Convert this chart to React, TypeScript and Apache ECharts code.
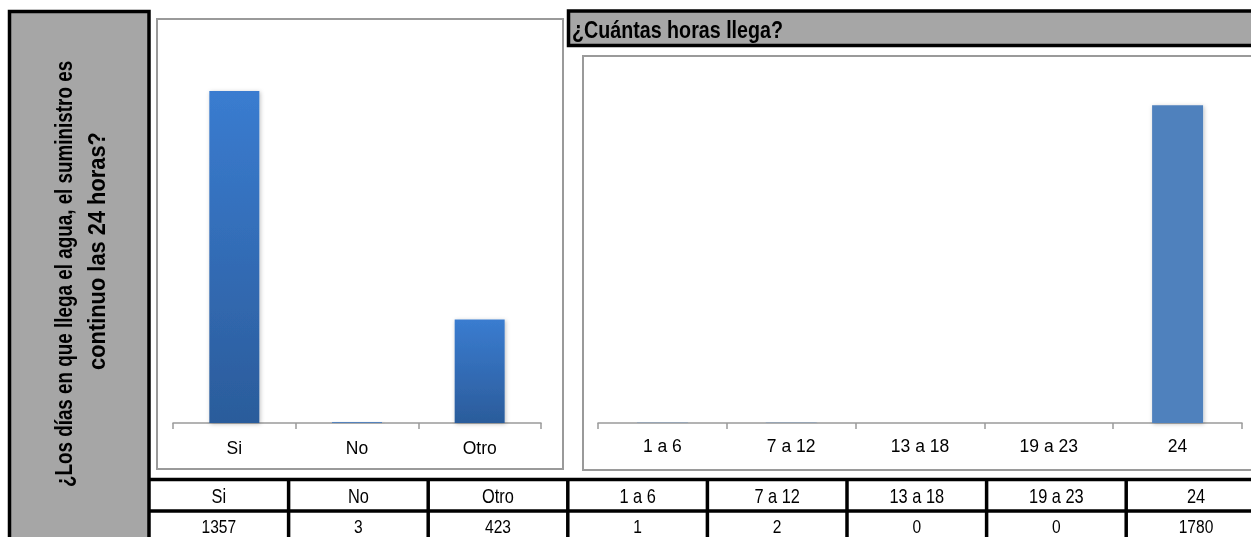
import { useEffect, useRef } from 'react';
import * as echarts from 'echarts';

const leftCategories = ['Si', 'No', 'Otro'];
const leftValues = [1357, 3, 423];
const rightCategories = ['1 a 6', '7 a 12', '13 a 18', '19 a 23', '24'];
const rightValues = [1, 2, 0, 0, 1780];
const sideTitleLines = ['¿Los días en que llega el agua, el suministro es', 'continuo las 24 horas?'];
const rightTitle = '¿Cuántas horas llega?';

const SANS = '"Liberation Sans", Arial, sans-serif';
const NARROW_SCALE = 0.82;

export default function App() {
  const ref = useRef<HTMLDivElement>(null);
  useEffect(() => {
    const chart = echarts.init(ref.current!, null, { renderer: 'svg' });
    const tableCats = [...leftCategories, ...rightCategories];
    const tableVals = [...leftValues, ...rightValues];
    const colX = (i: number) => 149 + i * 139.6;
    const graphic: any[] = [];
    // side panel
    graphic.push({
      type: 'rect', z: 1,
      shape: { x: 9.5, y: 11.5, width: 139.5, height: 545 },
      style: { fill: '#a6a6a6', stroke: '#000', lineWidth: 3.5 },
    });
    graphic.push({
      type: 'text', z: 2, x: 64, y: 274, rotation: Math.PI / 2, scaleX: NARROW_SCALE,
      style: { text: sideTitleLines[0], fill: '#000', fontFamily: SANS, fontWeight: 'bold', fontSize: 23, align: 'center', verticalAlign: 'middle' },
    });
    graphic.push({
      type: 'text', z: 2, x: 97, y: 251, rotation: Math.PI / 2, scaleX: 0.95,
      style: { text: sideTitleLines[1], fill: '#000', fontFamily: SANS, fontWeight: 'bold', fontSize: 23, align: 'center', verticalAlign: 'middle' },
    });
    // left chart box
    graphic.push({
      type: 'rect', z: 1,
      shape: { x: 157, y: 19, width: 406, height: 450 },
      style: { fill: 'none', stroke: '#9a9a9a', lineWidth: 2 },
    });
    // right title bar
    graphic.push({
      type: 'rect', z: 1,
      shape: { x: 568.5, y: 11, width: 700, height: 34.5 },
      style: { fill: '#a6a6a6', stroke: '#000', lineWidth: 3.5 },
    });
    graphic.push({
      type: 'text', z: 2, x: 572, y: 29.5, scaleX: NARROW_SCALE,
      style: { text: rightTitle, fill: '#000', fontFamily: SANS, fontWeight: 'bold', fontSize: 24, align: 'left', verticalAlign: 'middle' },
    });
    // right chart box
    graphic.push({
      type: 'rect', z: 1,
      shape: { x: 583, y: 56, width: 700, height: 414 },
      style: { fill: 'none', stroke: '#9a9a9a', lineWidth: 2 },
    });
    // table
    graphic.push({ type: 'line', z: 3, shape: { x1: 148, y1: 479.5, x2: 1251, y2: 479.5 }, style: { stroke: '#000', lineWidth: 3.5 } });
    graphic.push({ type: 'line', z: 3, shape: { x1: 148, y1: 511, x2: 1251, y2: 511 }, style: { stroke: '#000', lineWidth: 3.5 } });
    for (let i = 1; i < tableCats.length; i++) {
      graphic.push({ type: 'line', z: 3, shape: { x1: colX(i), y1: 478, x2: colX(i), y2: 540 }, style: { stroke: '#000', lineWidth: 3.5 } });
    }
    tableCats.forEach((c, i) => {
      const cx = (colX(i) + colX(i + 1)) / 2;
      graphic.push({ type: 'text', z: 3, x: cx, y: 495.5, scaleX: NARROW_SCALE, style: { text: c, fill: '#000', fontFamily: SANS, fontSize: 20, align: 'center', verticalAlign: 'middle' } });
      graphic.push({ type: 'text', z: 3, x: cx, y: 526, scaleX: NARROW_SCALE, style: { text: String(tableVals[i]), fill: '#000', fontFamily: SANS, fontSize: 19, align: 'center', verticalAlign: 'middle' } });
    });

    const axisCommon = {
      type: 'category' as const,
      axisLine: { lineStyle: { color: '#9a9a9a', width: 1.5 } },
      axisTick: { show: true, length: 6, lineStyle: { color: '#9a9a9a', width: 1.5 } },
      axisLabel: { color: '#000', fontFamily: SANS, fontSize: 17.5, interval: 0 },
    };
    const shadow = { shadowBlur: 4, shadowColor: 'rgba(0,0,0,0.25)', shadowOffsetX: 1, shadowOffsetY: 1 };

    chart.setOption({
      animation: false,
      graphic,
      grid: [
        { left: 173, top: 31.5, width: 368, height: 391.5 },
        { left: 598, top: 66, width: 644, height: 357 },
      ],
      xAxis: [
        { ...axisCommon, gridIndex: 0, data: leftCategories, axisLabel: { ...axisCommon.axisLabel, margin: 16 } },
        { ...axisCommon, gridIndex: 1, data: rightCategories, axisLabel: { ...axisCommon.axisLabel, margin: 14 } },
      ],
      yAxis: [
        { type: 'value', gridIndex: 0, min: 0, max: 1600, show: false, splitLine: { show: false } },
        { type: 'value', gridIndex: 1, min: 0, max: 2000, show: false, splitLine: { show: false } },
      ],
      series: [
        {
          type: 'bar', xAxisIndex: 0, yAxisIndex: 0, data: leftValues, barWidth: 50,
          itemStyle: {
            color: new echarts.graphic.LinearGradient(0, 0, 0, 1, [
              { offset: 0, color: '#3a7cd0' },
              { offset: 1, color: '#2b5c9b' },
            ]),
            ...shadow,
          },
        },
        {
          type: 'bar', xAxisIndex: 1, yAxisIndex: 1, data: rightValues, barWidth: 51,
          itemStyle: { color: '#4f81bd', ...shadow },
        },
      ],
    });
    return () => chart.dispose();
  }, []);
  return <div ref={ref} style={{ position: 'fixed', left: 0, top: 0, width: 1251, height: 537 }} />;
}
